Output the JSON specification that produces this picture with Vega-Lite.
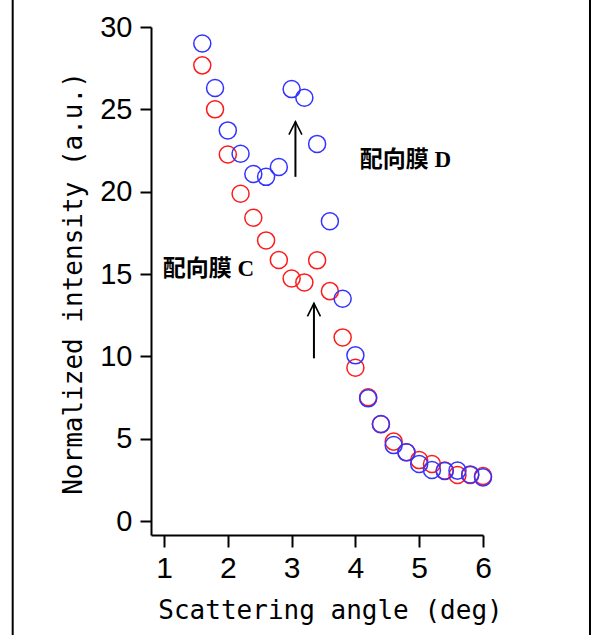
{
  "$schema": "https://vega.github.io/schema/vega-lite/v6.json",
  "width": 332,
  "height": 508,
  "autosize": {"type": "none"},
  "padding": {"left": 151, "top": 27, "right": 110, "bottom": 100},
  "background": "white",
  "config": {"view": {"stroke": null}, "axis": {"grid": false}},
  "datasets": {
    "points": [
      {"film": "配向膜C", "angle": 1.6, "intensity": 27.67},
      {"film": "配向膜C", "angle": 1.8, "intensity": 25.0},
      {"film": "配向膜C", "angle": 2.0, "intensity": 22.26},
      {"film": "配向膜C", "angle": 2.2, "intensity": 19.87},
      {"film": "配向膜C", "angle": 2.4, "intensity": 18.42},
      {"film": "配向膜C", "angle": 2.6, "intensity": 17.04},
      {"film": "配向膜C", "angle": 2.8, "intensity": 15.85},
      {"film": "配向膜C", "angle": 3.0, "intensity": 14.73},
      {"film": "配向膜C", "angle": 3.2, "intensity": 14.49},
      {"film": "配向膜C", "angle": 3.4, "intensity": 15.83},
      {"film": "配向膜C", "angle": 3.6, "intensity": 13.96},
      {"film": "配向膜C", "angle": 3.8, "intensity": 11.15},
      {"film": "配向膜C", "angle": 4.0, "intensity": 9.31},
      {"film": "配向膜C", "angle": 4.2, "intensity": 7.51},
      {"film": "配向膜C", "angle": 4.4, "intensity": 5.87},
      {"film": "配向膜C", "angle": 4.6, "intensity": 4.82},
      {"film": "配向膜C", "angle": 4.8, "intensity": 4.17},
      {"film": "配向膜C", "angle": 5.0, "intensity": 3.7},
      {"film": "配向膜C", "angle": 5.2, "intensity": 3.46},
      {"film": "配向膜C", "angle": 5.4, "intensity": 3.06},
      {"film": "配向膜C", "angle": 5.6, "intensity": 2.79},
      {"film": "配向膜C", "angle": 5.8, "intensity": 2.79},
      {"film": "配向膜C", "angle": 6.0, "intensity": 2.73},
      {"film": "配向膜D", "angle": 1.6, "intensity": 29.0},
      {"film": "配向膜D", "angle": 1.8, "intensity": 26.3},
      {"film": "配向膜D", "angle": 2.0, "intensity": 23.72},
      {"film": "配向膜D", "angle": 2.2, "intensity": 22.3},
      {"film": "配向膜D", "angle": 2.4, "intensity": 21.07},
      {"film": "配向膜D", "angle": 2.6, "intensity": 20.9},
      {"film": "配向膜D", "angle": 2.8, "intensity": 21.5},
      {"film": "配向膜D", "angle": 3.0, "intensity": 26.23},
      {"film": "配向膜D", "angle": 3.2, "intensity": 25.7},
      {"film": "配向膜D", "angle": 3.4, "intensity": 22.9},
      {"film": "配向膜D", "angle": 3.6, "intensity": 18.2},
      {"film": "配向膜D", "angle": 3.8, "intensity": 13.5},
      {"film": "配向膜D", "angle": 4.0, "intensity": 10.06},
      {"film": "配向膜D", "angle": 4.2, "intensity": 7.45},
      {"film": "配向膜D", "angle": 4.4, "intensity": 5.89},
      {"film": "配向膜D", "angle": 4.6, "intensity": 4.61},
      {"film": "配向膜D", "angle": 4.8, "intensity": 4.17},
      {"film": "配向膜D", "angle": 5.0, "intensity": 3.46},
      {"film": "配向膜D", "angle": 5.2, "intensity": 3.1},
      {"film": "配向膜D", "angle": 5.4, "intensity": 3.04},
      {"film": "配向膜D", "angle": 5.6, "intensity": 3.06},
      {"film": "配向膜D", "angle": 5.8, "intensity": 2.83},
      {"film": "配向膜D", "angle": 6.0, "intensity": 2.65}
    ],
    "arrows": [
      {"angle": 3.06, "from": 20.9, "to": 24.25},
      {"angle": 3.35, "from": 9.88, "to": 13.22}
    ],
    "labels": [
      {"label": "配向膜 C", "angle": 0.98, "intensity": 15.3},
      {"label": "配向膜 D", "angle": 4.07, "intensity": 21.92}
    ]
  },
  "layer": [
    {
      "data": {"name": "points"},
      "mark": {"type": "point", "shape": "circle", "filled": false, "size": 290, "strokeWidth": 1.5, "opacity": 1},
      "encoding": {
        "x": {
          "field": "angle", "type": "quantitative",
          "scale": {"domain": [0.796, 6], "nice": false, "zero": false},
          "axis": {
            "title": "Scattering angle (deg)",
            "values": [1, 2, 3, 4, 5, 6], "format": "d",
            "domainColor": "black", "domainWidth": 2,
            "tickColor": "black", "tickWidth": 2, "tickSize": 12,
            "labelFont": "Liberation Sans", "labelFontSize": 30, "labelColor": "black",
            "labelPadding": 6, "labelFlush": false, "labelOverlap": false,
            "titleFont": "DejaVu Sans Mono", "titleFontSize": 26, "titleFontWeight": "normal",
            "titleColor": "black", "titleX": 179, "titleY": 83,
            "titleBaseline": "alphabetic", "titleAlign": "center"
          }
        },
        "y": {
          "field": "intensity", "type": "quantitative",
          "scale": {"domain": [-0.85, 30], "nice": false, "zero": false},
          "axis": {
            "title": "Normalized intensity (a.u.)",
            "values": [0, 5, 10, 15, 20, 25, 30], "format": "d",
            "domainColor": "black", "domainWidth": 2,
            "tickColor": "black", "tickWidth": 2, "tickSize": 11,
            "labelFont": "Liberation Sans", "labelFontSize": 29, "labelColor": "black",
            "labelPadding": 8, "labelFlush": false, "labelOverlap": false,
            "titleFont": "DejaVu Sans Mono", "titleFontSize": 26, "titleFontWeight": "normal",
            "titleColor": "black", "titleAngle": -90, "titleX": -70, "titleY": 256,
            "titleBaseline": "alphabetic", "titleAlign": "center"
          }
        },
        "color": {
          "field": "film", "type": "nominal",
          "scale": {"domain": ["配向膜C", "配向膜D"], "range": ["#ff1a1a", "#3333ff"]},
          "legend": null
        }
      }
    },
    {
      "data": {"name": "arrows"},
      "mark": {"type": "rule", "color": "black", "strokeWidth": 2},
      "encoding": {
        "x": {"field": "angle", "type": "quantitative"},
        "y": {"field": "from", "type": "quantitative"},
        "y2": {"field": "to"}
      }
    },
    {
      "data": {"name": "arrows"},
      "mark": {"type": "point", "shape": "M-0.5,1L0,0L0.5,1", "filled": false, "size": 676, "strokeWidth": 1.6, "color": "black", "opacity": 1},
      "encoding": {
        "x": {"field": "angle", "type": "quantitative"},
        "y": {"field": "to", "type": "quantitative"}
      }
    },
    {
      "data": {"name": "labels"},
      "mark": {"type": "text", "align": "left", "baseline": "middle", "font": "'Liberation Serif', 'Noto Sans CJK SC'", "fontSize": 23, "fontWeight": "bold", "color": "black"},
      "encoding": {
        "x": {"field": "angle", "type": "quantitative"},
        "y": {"field": "intensity", "type": "quantitative"},
        "text": {"field": "label"}
      }
    },
    {
      "data": {"values": [{}]},
      "mark": {"type": "rule", "color": "black", "strokeWidth": 2, "clip": false},
      "encoding": {
        "x": {"datum": -1.372, "type": "quantitative"},
        "y": {"datum": 31.7, "type": "quantitative"},
        "y2": {"datum": -7.0}
      }
    },
    {
      "data": {"values": [{}]},
      "mark": {"type": "rule", "color": "black", "strokeWidth": 2, "clip": false},
      "encoding": {
        "x": {"datum": 7.677, "type": "quantitative"},
        "y": {"datum": 31.7, "type": "quantitative"},
        "y2": {"datum": -7.0}
      }
    }
  ]
}
